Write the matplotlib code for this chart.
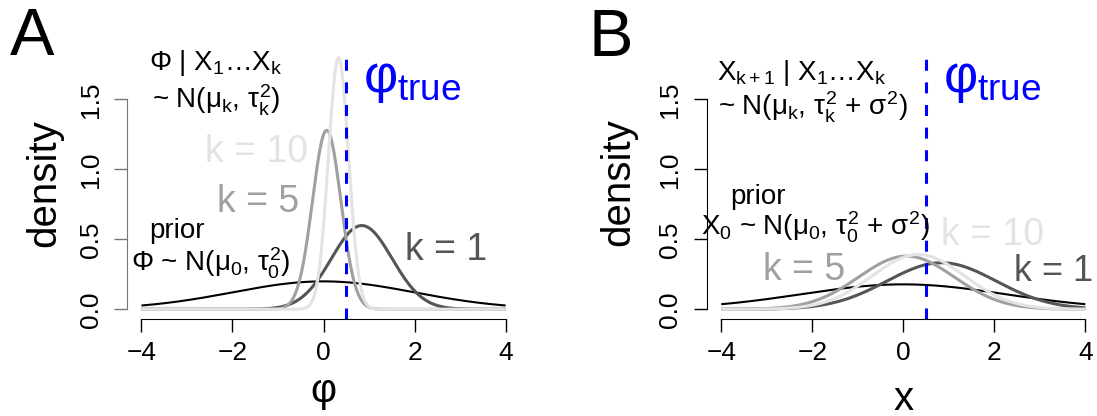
import numpy as np
import matplotlib
matplotlib.use("Agg")
import matplotlib.pyplot as plt

plt.rcParams['font.family'] = ['Liberation Sans', 'DejaVu Sans']
plt.rcParams['mathtext.fontset'] = 'custom'
plt.rcParams['mathtext.rm'] = 'Liberation Sans'
plt.rcParams['mathtext.it'] = 'Liberation Sans'
plt.rcParams['mathtext.bf'] = 'Liberation Sans'

# normal curves: (mean, sd)
labels = ['prior', 'k = 1', 'k = 5', 'k = 10']
colors = ['black', '#555555', '#a0a0a0', '#e3e3e3']
widths = [1.5, 2.2, 2.2, 2.2]
post_mean = [0.0, 0.84, 0.07, 0.33]
post_sd = [2.0, 0.667, 0.312, 0.222]
pred_mean = [0.0, 0.84, 0.07, 0.33]
pred_sd = [2.24, 1.20, 1.05, 1.02]
phi_true = 0.5

xticks = [-4, -2, 0, 2, 4]
yticks = [0.0, 0.5, 1.0, 1.5]
ytick_labels = ['0.0', '0.5', '1.0', '1.5']

x = np.linspace(-4, 4, 401)


def dnorm(v, m, s):
    return np.exp(-0.5 * ((v - m) / s) ** 2) / (s * np.sqrt(2 * np.pi))


fig = plt.figure(figsize=(10.97, 4.16), dpi=100)
W, H = 1097.0, 416.0


def add_axes(left_px, right_px, top_px, bottom_px):
    return fig.add_axes([left_px / W, 1 - bottom_px / H,
                         (right_px - left_px) / W, (bottom_px - top_px) / H])


axA = add_axes(126.9, 520.1, 48.7, 319.3)
axB = add_axes(706.7, 1099.9, 48.7, 319.3)

for ax, means, sds, leftcol in [(axA, post_mean, post_sd, '#777777'),
                                (axB, pred_mean, pred_sd, 'black')]:
    for m, s, c, lw in zip(means, sds, colors, widths):
        ax.plot(x, dnorm(x, m, s), color=c, lw=lw, solid_capstyle='butt')
    ax.axvline(phi_true, color='blue', lw=2.2, dashes=(3.6, 3.8))
    ax.set_xlim(-4.32, 4.32)
    ax.set_ylim(-0.0716, 1.8616)
    for side in ['top', 'right']:
        ax.spines[side].set_visible(False)
    ax.spines['bottom'].set_bounds(-4, 4)
    ax.spines['left'].set_bounds(0, 1.5)
    ax.spines['left'].set_color(leftcol)
    ax.set_xticks(xticks)
    ax.set_xticklabels(['\u22124', '\u22122', '0', '2', '4'])
    ax.set_yticks(yticks)
    ax.set_yticklabels(ytick_labels, rotation=90, va='center')
    ax.tick_params(axis='x', length=9.5, width=1, labelsize=19, pad=6)
    ax.tick_params(axis='y', length=9.5, width=1, labelsize=19, pad=8,
                   color=leftcol)
    ax.patch.set_visible(False)
    ax.text(1.95, 1.64, r'$\varphi_{\mathrm{true}}$', color='blue',
            fontsize=38, ha='center', va='center')

# panel A annotations
tsz = 20
axA.text(-2.36, 1.76, r'$\Phi$ | X$_1$$\ldots$X$_k$', fontsize=tsz,
         ha='center', va='center', clip_on=False)
axA.text(-2.36, 1.495, r'~ N($\mu_k$, $\tau_k^2$)', fontsize=tsz,
         ha='center', va='center')
axA.text(-1.48, 1.124, 'k = 10', color=colors[3], fontsize=27,
         ha='center', va='center')
axA.text(-1.44, 0.766, 'k = 5', color=colors[2], fontsize=27,
         ha='center', va='center')
axA.text(-3.22, 0.56, 'prior', fontsize=tsz, ha='center', va='center')
axA.text(-2.47, 0.33, r'$\Phi$ ~ N($\mu_0$, $\tau_0^2$)', fontsize=tsz,
         ha='center', va='center', clip_on=False)
axA.text(2.69, 0.42, 'k = 1', color=colors[1], fontsize=27,
         ha='center', va='center')

# panel B annotations
axB.text(-2.23, 1.69, r'X$_{k+1}$ | X$_1$$\ldots$X$_k$', fontsize=tsz,
         ha='center', va='center')
axB.text(-1.99, 1.44, r'~ N($\mu_k$, $\tau_k^2$ + $\sigma^2$)',
         fontsize=tsz, ha='center', va='center')
axB.text(-3.19, 0.80, 'prior', fontsize=tsz, ha='center', va='center')
axB.text(-1.92, 0.585, r'X$_0$ ~ N($\mu_0$, $\tau_0^2$ + $\sigma^2$)',
         fontsize=tsz, ha='center', va='center', clip_on=False)
axB.text(1.97, 0.53, 'k = 10', color=colors[3], fontsize=27,
         ha='center', va='center')
axB.text(-2.18, 0.28, 'k = 5', color=colors[2], fontsize=27,
         ha='center', va='center')
axB.text(4.18, 0.27, 'k = 1', color=colors[1], fontsize=26,
         ha='right', va='center', clip_on=False)

# axis titles and panel letters
fig.text(44 / W, 1 - 183 / H, 'density', rotation=90, fontsize=29,
         ha='center', va='center')
fig.text(618 / W, 1 - 182 / H, 'density', rotation=90, fontsize=29,
         ha='center', va='center')
fig.text(323.5 / W, 1 - 402 / H, r'$\varphi$', fontsize=29,
         ha='center', va='baseline')
fig.text(904 / W, 1 - 410 / H, 'x', fontsize=29, ha='center', va='baseline')
fig.text(32 / W, 1 - 55 / H, 'A', fontsize=48, ha='center', va='baseline')
fig.text(611 / W, 1 - 56 / H, 'B', fontsize=48, ha='center', va='baseline')

fig.savefig('out.png', dpi=100)
